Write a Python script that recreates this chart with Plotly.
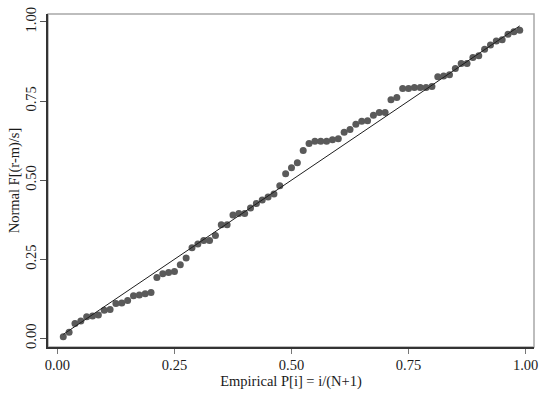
import plotly.graph_objects as go

# Empirical plotting positions i/(N+1), N = 79
emp_p = [
    0.0125, 0.025, 0.0375, 0.05, 0.0625, 0.075, 0.0875, 0.1, 0.1125, 0.125,
    0.1375, 0.15, 0.1625, 0.175, 0.1875, 0.2, 0.2125, 0.225, 0.2375, 0.25,
    0.2625, 0.275, 0.2875, 0.3, 0.3125, 0.325, 0.3375, 0.35, 0.3625, 0.375,
    0.3875, 0.4, 0.4125, 0.425, 0.4375, 0.45, 0.4625, 0.475, 0.4875, 0.5,
    0.5125, 0.525, 0.5375, 0.55, 0.5625, 0.575, 0.5875, 0.6, 0.6125, 0.625,
    0.6375, 0.65, 0.6625, 0.675, 0.6875, 0.7, 0.7125, 0.725, 0.7375, 0.75,
    0.7625, 0.775, 0.7875, 0.8, 0.8125, 0.825, 0.8375, 0.85, 0.8625, 0.875,
    0.8875, 0.9, 0.9125, 0.925, 0.9375, 0.95, 0.9625, 0.975, 0.9875,
]

# Normal CDF of the standardised observations, F[(r-m)/s]
normal_f = [
    0.005, 0.019, 0.047, 0.055, 0.068, 0.071, 0.074, 0.089, 0.091, 0.110,
    0.112, 0.120, 0.135, 0.137, 0.141, 0.145, 0.192, 0.204, 0.208, 0.211,
    0.233, 0.254, 0.286, 0.298, 0.309, 0.309, 0.325, 0.359, 0.359, 0.390,
    0.395, 0.395, 0.412, 0.426, 0.437, 0.447, 0.456, 0.482, 0.520, 0.539,
    0.555, 0.594, 0.616, 0.623, 0.623, 0.623, 0.628, 0.631, 0.651, 0.660,
    0.677, 0.686, 0.688, 0.705, 0.714, 0.714, 0.754, 0.761, 0.790, 0.790,
    0.793, 0.793, 0.793, 0.796, 0.827, 0.829, 0.833, 0.853, 0.869, 0.869,
    0.888, 0.893, 0.914, 0.927, 0.940, 0.944, 0.961, 0.969, 0.974,
]

tick_vals = [0, 0.25, 0.5, 0.75, 1]
tick_text = ["0.00", "0.25", "0.50", "0.75", "1.00"]

FONT = "Liberation Serif"

fig = go.Figure()

fig.add_trace(go.Scatter(
    x=emp_p, y=normal_f, mode="markers",
    marker=dict(size=7, color="#5a5a5a", line=dict(width=0)),
    showlegend=False, hoverinfo="skip",
))

# Reference diagonal y = x over the range of the plotting positions
fig.add_trace(go.Scatter(
    x=[emp_p[0], emp_p[-1]], y=[emp_p[0], emp_p[-1]], mode="lines",
    line=dict(color="#1e1e1e", width=1),
    showlegend=False, hoverinfo="skip",
))

# Light frame around the plot region (top and right edges show)
fig.add_shape(type="rect", xref="paper", yref="paper", x0=0, y0=0, x1=1, y1=1,
              line=dict(color="#a8a8a8", width=1.5), layer="below")

fig.update_layout(
    width=545, height=394,
    margin=dict(l=48, r=7, t=12, b=47),
    paper_bgcolor="white", plot_bgcolor="white",
    font=dict(family=FONT, size=14.5, color="#1a1a1a"),
    xaxis=dict(
        range=[-0.0201, 1.018], tickvals=tick_vals, ticktext=tick_text,
        showgrid=False, zeroline=False,
        showline=True, linecolor="#333333", linewidth=1.5,
        ticks="outside", ticklen=5, tickcolor="#777777", tickwidth=1,
        ticklabelstandoff=-1,
        title=dict(text="Empirical P[i] = i/(N+1)", standoff=0,
                   font=dict(family=FONT, size=14.5)),
    ),
    yaxis=dict(
        range=[-0.0273, 1.0251], tickvals=tick_vals, ticktext=tick_text,
        showgrid=False, zeroline=False,
        showline=True, linecolor="#333333", linewidth=1.5,
        ticks="outside", ticklen=6, tickcolor="#555555", tickwidth=1,
        tickangle=-90, ticklabelstandoff=-2,
        title=dict(text="Normal F[(r-m)/s]", standoff=0,
                   font=dict(family=FONT, size=14.5)),
    ),
)

fig.write_html("out.html")
